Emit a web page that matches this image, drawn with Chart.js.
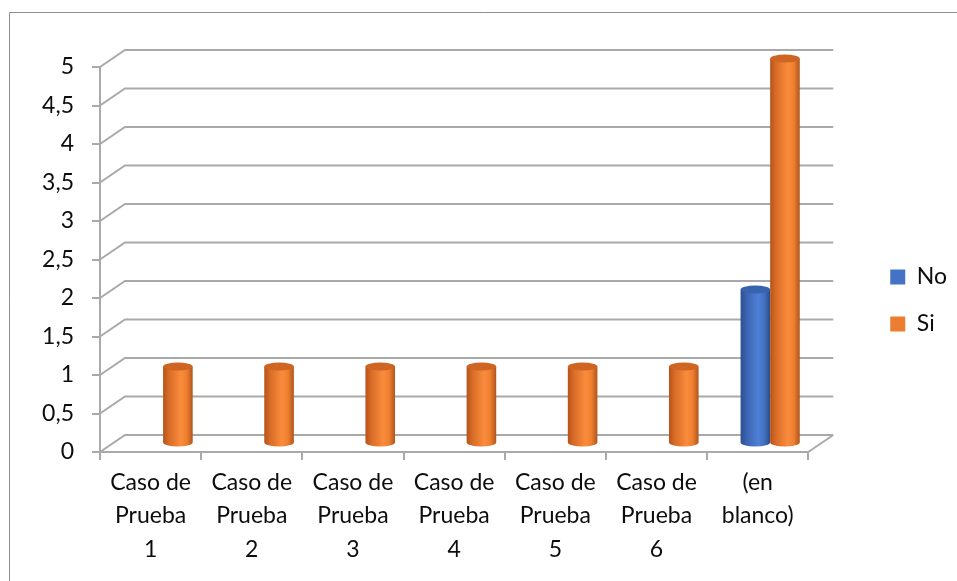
<!DOCTYPE html>
<html>
<head>
<meta charset="utf-8">
<script src="https://cdn.jsdelivr.net/npm/chart.js@4.4.1/dist/chart.umd.min.js"></script>
<style>
  html, body { margin: 0; padding: 0; background: #ffffff; }
  canvas { display: block; }
</style>
</head>
<body>
<canvas id="c" width="957" height="581"></canvas>
<script>
const categories = [
  ['Caso de', 'Prueba', '1'],
  ['Caso de', 'Prueba', '2'],
  ['Caso de', 'Prueba', '3'],
  ['Caso de', 'Prueba', '4'],
  ['Caso de', 'Prueba', '5'],
  ['Caso de', 'Prueba', '6'],
  ['(en', 'blanco)']
];
const seriesNames = ['No', 'Si'];
const noValues = [null, null, null, null, null, null, 2];
const siValues = [1, 1, 1, 1, 1, 1, 5];
const yTicks = [0, 0.5, 1, 1.5, 2, 2.5, 3, 3.5, 4, 4.5, 5];

const FONT = 'Lato, "Open Sans", sans-serif';
const GRID = '#a9a9a9';
const DEPTH_X = 25, DEPTH_Y = 17;

const palettes = [
  { stops: [[0, '#2c4f8e'], [0.2, '#3a64b0'], [0.6, '#4f80d6'], [0.8, '#4270c0'], [1, '#2a4c88']], top: '#3a63ad' },
  { stops: [[0, '#b4531a'], [0.2, '#d96c27'], [0.6, '#f98c3c'], [0.8, '#ef7f30'], [1, '#b0551c']], top: '#cf6522' }
];

const threeD = {
  id: 'threeD',
  beforeDraw(chart) {
    const { ctx, chartArea: a, scales } = chart;
    ctx.save();
    ctx.strokeStyle = '#8e8e8e';
    ctx.lineWidth = 1;
    ctx.beginPath();
    ctx.moveTo(9.5, 600); ctx.lineTo(9.5, 12.5); ctx.lineTo(960, 12.5);
    ctx.stroke();
    ctx.strokeStyle = GRID;
    ctx.lineWidth = 2;
    ctx.beginPath();
    yTicks.forEach(v => {
      const y = scales.y.getPixelForValue(v);
      ctx.moveTo(a.left, y);
      ctx.lineTo(a.left + DEPTH_X, y - DEPTH_Y);
      ctx.lineTo(a.right + DEPTH_X, y - DEPTH_Y);
    });
    ctx.moveTo(a.right, a.bottom);
    ctx.lineTo(a.right + DEPTH_X, a.bottom - DEPTH_Y);
    ctx.stroke();
    ctx.restore();
  },
  beforeDatasetDraw() { return false; },
  afterDatasetsDraw(chart) {
    const { ctx } = chart;
    const dx = DEPTH_X / 2, dy = -DEPTH_Y / 2;
    chart.data.datasets.forEach((ds, di) => {
      const meta = chart.getDatasetMeta(di);
      const pal = palettes[di];
      meta.data.forEach((el, i) => {
        const v = ds.data[i];
        if (v === null || v === undefined) return;
        const p = el.getProps(['x', 'y', 'base', 'width'], true);
        const x0 = p.x - p.width / 2 + dx, x1 = p.x + p.width / 2 + dx;
        const cx = (x0 + x1) / 2, rx = (x1 - x0) / 2, ry = 4;
        const yt = p.y + dy, yb = p.base + dy;
        ctx.save();
        const g = ctx.createLinearGradient(x0, 0, x1, 0);
        pal.stops.forEach(s => g.addColorStop(s[0], s[1]));
        ctx.fillStyle = g;
        ctx.beginPath();
        ctx.moveTo(x0, yt);
        ctx.lineTo(x0, yb);
        ctx.ellipse(cx, yb, rx, ry, 0, Math.PI, 0, true);
        ctx.lineTo(x1, yt);
        ctx.closePath();
        ctx.fill();
        ctx.beginPath();
        ctx.ellipse(cx, yt, rx, ry, 0, 0, Math.PI * 2);
        ctx.fillStyle = pal.top;
        ctx.fill();
        ctx.restore();
      });
    });
  }
};

new Chart(document.getElementById('c'), {
  type: 'bar',
  data: {
    labels: categories,
    datasets: [
      { label: seriesNames[0], data: noValues, backgroundColor: '#4472c4', borderWidth: 0 },
      { label: seriesNames[1], data: siValues, backgroundColor: '#ed7d31', borderWidth: 0 }
    ]
  },
  options: {
    responsive: false,
    devicePixelRatio: 1,
    animation: false,
    layout: { padding: { top: 20, left: 0, right: 0, bottom: 0 } },
    datasets: { bar: { categoryPercentage: 0.585, barPercentage: 1 } },
    plugins: {
      tooltip: { enabled: false },
      title: { display: false },
      legend: {
        position: 'right',
        align: 'center',
        labels: {
          boxWidth: 15, boxHeight: 15, padding: 24,
          color: '#0d0d0d',
          font: { family: FONT, size: 23 }
        }
      }
    },
    scales: {
      x: {
        position: 'bottom',
        grid: { display: true, drawOnChartArea: false, drawTicks: true, tickLength: 8, color: GRID, lineWidth: 2, offset: true },
        border: { display: true, color: GRID, width: 2 },
        ticks: { color: '#0d0d0d', padding: 6, maxRotation: 0, autoSkip: false, font: { family: FONT, size: 23, lineHeight: 1.45 } },
        afterFit(s) { s.height = 129; }
      },
      xTop: {
        type: 'category',
        position: 'top',
        grid: { display: false },
        border: { display: false },
        ticks: { display: false },
        afterFit(s) { s.height = 47; }
      },
      y: {
        position: 'left',
        min: 0, max: 5,
        grid: { display: true, drawOnChartArea: false, drawTicks: true, tickLength: 8, color: GRID, lineWidth: 2 },
        border: { display: true, color: GRID, width: 2 },
        ticks: {
          stepSize: 0.5, padding: 18, color: '#0d0d0d',
          font: { family: FONT, size: 23 },
          callback: v => String(v).replace('.', ',')
        },
        afterFit(s) { s.width = 100; }
      },
      yRight: {
        type: 'linear',
        position: 'right',
        grid: { display: false },
        border: { display: false },
        ticks: { display: false },
        afterFit(s) { s.width = 58; }
      }
    }
  },
  plugins: [threeD]
});
</script>
</body>
</html>
